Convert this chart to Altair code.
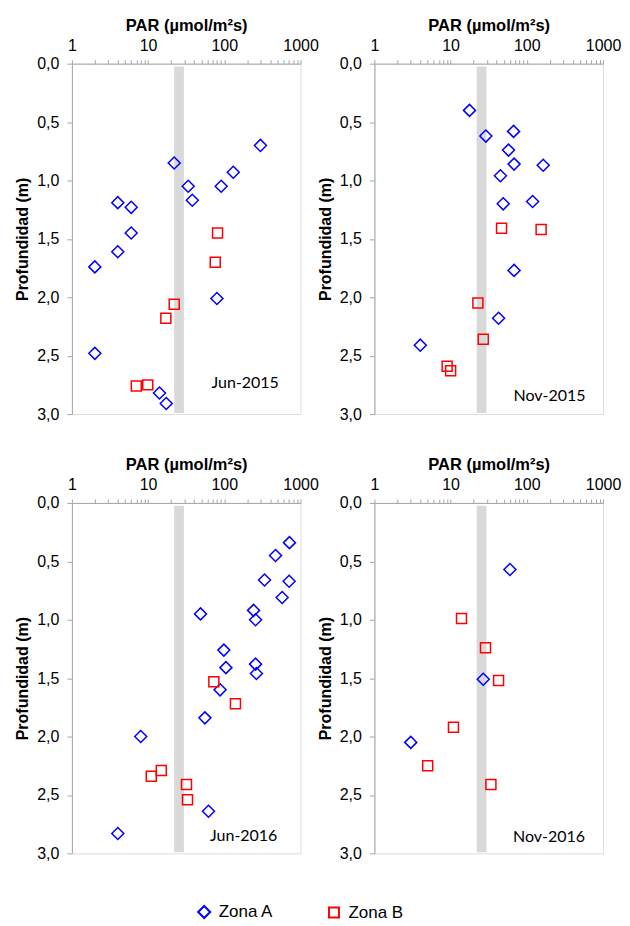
import altair as alt
import pandas as pd

panel_names = ["Jun-2015", "Nov-2015", "Jun-2016", "Nov-2016"]
zones = ["Zona A", "Zona B"]
zone_colors = ["#0000FF", "#FF0000"]
zone_shapes = ["diamond", "square"]

# Jun-2015
jun15_a_par = [298, 22, 131, 33.6, 91, 38, 4.0, 6.0, 6.0, 4.0, 2.0, 80, 2.0, 14.1, 17.3]
jun15_a_depth = [0.70, 0.85, 0.93, 1.05, 1.05, 1.17, 1.19, 1.23, 1.45, 1.61, 1.74, 2.01, 2.48, 2.82, 2.91]
jun15_b_par = [81.5, 76, 22, 17.1, 9.9, 7.0]
jun15_b_depth = [1.45, 1.70, 2.06, 2.18, 2.75, 2.76]

# Nov-2015
nov15_a_par = [17.7, 67, 29, 57.5, 68, 164, 45, 49, 119, 68, 42.6, 4.0]
nov15_a_depth = [0.40, 0.58, 0.62, 0.74, 0.86, 0.87, 0.96, 1.20, 1.18, 1.77, 2.18, 2.41]
nov15_b_par = [46.6, 154, 22.8, 26.8, 9.0, 10.0]
nov15_b_depth = [1.41, 1.42, 2.05, 2.36, 2.59, 2.63]

# Jun-2016
jun16_a_par = [716, 470, 337, 709, 574, 242, 257, 48.7, 98.6, 105, 257, 264, 88, 55.6, 8.0, 62, 4.0]
jun16_a_depth = [0.34, 0.45, 0.66, 0.67, 0.81, 0.92, 1.00, 0.95, 1.26, 1.41, 1.38, 1.46, 1.60, 1.84, 2.00, 2.64, 2.83]
jun16_b_par = [72.9, 140, 14.9, 11.0, 31.9, 32.9]
jun16_b_depth = [1.53, 1.72, 2.29, 2.34, 2.41, 2.54]

# Nov-2016
nov16_a_par = [60, 26.8, 3.0]
nov16_a_depth = [0.57, 1.51, 2.05]
nov16_b_par = [13.9, 28.7, 42.6, 10.9, 5.0, 33.8]
nov16_b_depth = [0.99, 1.24, 1.52, 1.92, 2.25, 2.41]

# grey band (PAR range) and panel label anchors
band_par = [22, 29.5]
band_depth = [0.025, 2.99]
label_par = [68, 67, 65, 66]
label_depth = [2.78, 2.89, 2.895, 2.90]

x_ticks = [m * 10 ** e for e in range(3) for m in range(1, 10)] + [1000]
y_ticks = [0, 0.5, 1.0, 1.5, 2.0, 2.5, 3.0]

series = {
    "Jun-2015": [(jun15_a_par, jun15_a_depth), (jun15_b_par, jun15_b_depth)],
    "Nov-2015": [(nov15_a_par, nov15_a_depth), (nov15_b_par, nov15_b_depth)],
    "Jun-2016": [(jun16_a_par, jun16_a_depth), (jun16_b_par, jun16_b_depth)],
    "Nov-2016": [(nov16_a_par, nov16_a_depth), (nov16_b_par, nov16_b_depth)],
}

rows = []
for name in panel_names:
    for zone, (pars, depths) in zip(zones, series[name]):
        for p, d in zip(pars, depths):
            rows.append({"panel": name, "zona": zone, "par": p, "depth": d})
df = pd.DataFrame(rows)

FONT = "Liberation Sans"
GREY = "#a6a6a6"

x_scale = alt.Scale(type="log", domain=[1, 1000], nice=False)
y_scale = alt.Scale(domain=[0, 3], reverse=True, nice=False, zero=False)

x_axis = alt.Axis(
    orient="top", title="PAR (µmol/m²s)", values=x_ticks,
    labelExpr="(datum.value == 1 || datum.value == 10 || datum.value == 100 || datum.value == 1000) ? '' + datum.value : ''",
    labelFlush=False, labelOverlap=False, grid=False,
    tickSize=4, tickColor=GREY, domainColor=GREY,
    labelFont=FONT, labelFontSize=16, labelColor="#000", labelPadding=6,
    titleFont=FONT, titleFontSize=16.5, titleFontWeight="bold", titleColor="#000", titlePadding=4,
)
y_axis = alt.Axis(
    orient="left", title="Profundidad (m)", values=y_ticks,
    labelExpr="replace(format(datum.value, '.1f'), '.', ',')",
    grid=False, tickSize=5, tickColor=GREY, domainColor=GREY,
    labelFont=FONT, labelFontSize=16, labelColor="#000", labelPadding=8,
    titleFont=FONT, titleFontSize=16, titleFontWeight="bold", titleColor="#000", titlePadding=6,
)

legend = alt.Legend(
    title=None, orient="none", legendX=124, legendY=841, direction="horizontal",
    labelFont=FONT, labelFontSize=17, labelColor="#000", symbolSize=160,
    symbolStrokeWidth=2, columnPadding=51, labelOffset=6, padding=0,
)


def X(field):
    return alt.X(field, type="quantitative", scale=x_scale, axis=x_axis)


def Y(field):
    return alt.Y(field, type="quantitative", scale=y_scale, axis=y_axis)


def make_panel(i, name):
    band = alt.Chart(pd.DataFrame({
        "par": [band_par[0]], "par2": [band_par[1]],
        "depth": [band_depth[0]], "depth2": [band_depth[1]],
    })).mark_rect(color="#d9d9d9").encode(
        x=X("par"), x2="par2", y=Y("depth"), y2="depth2"
    )
    pts = alt.Chart(df[df["panel"] == name]).mark_point(
        filled=False, strokeWidth=1.5, opacity=1
    ).encode(
        x=X("par"), y=Y("depth"),
        color=alt.Color("zona:N", scale=alt.Scale(domain=zones, range=zone_colors), legend=legend),
        shape=alt.Shape("zona:N", scale=alt.Scale(domain=zones, range=zone_shapes), legend=legend),
        size=alt.Size("zona:N", scale=alt.Scale(domain=zones, range=[144, 100]), legend=None),
    )
    lab = alt.Chart(pd.DataFrame({
        "par": [label_par[i]], "depth": [label_depth[i]], "t": [name]
    })).mark_text(
        align="left", baseline="alphabetic", font="Lato", fontSize=16, color="#000"
    ).encode(x=X("par"), y=Y("depth"), text="t:N")
    return alt.layer(band, pts, lab).properties(width=229, height=351)


p = [make_panel(i, n) for i, n in enumerate(panel_names)]

chart = alt.concat(
    *p, columns=2, spacing={"row": 89, "column": 74}, bounds="flush"
).properties(
    padding={"left": 6, "top": 8, "right": 0, "bottom": 0}
).configure_view(stroke=None).configure(background="white")

chart.save("out.html", embed_options={"renderer": "svg", "actions": False})
